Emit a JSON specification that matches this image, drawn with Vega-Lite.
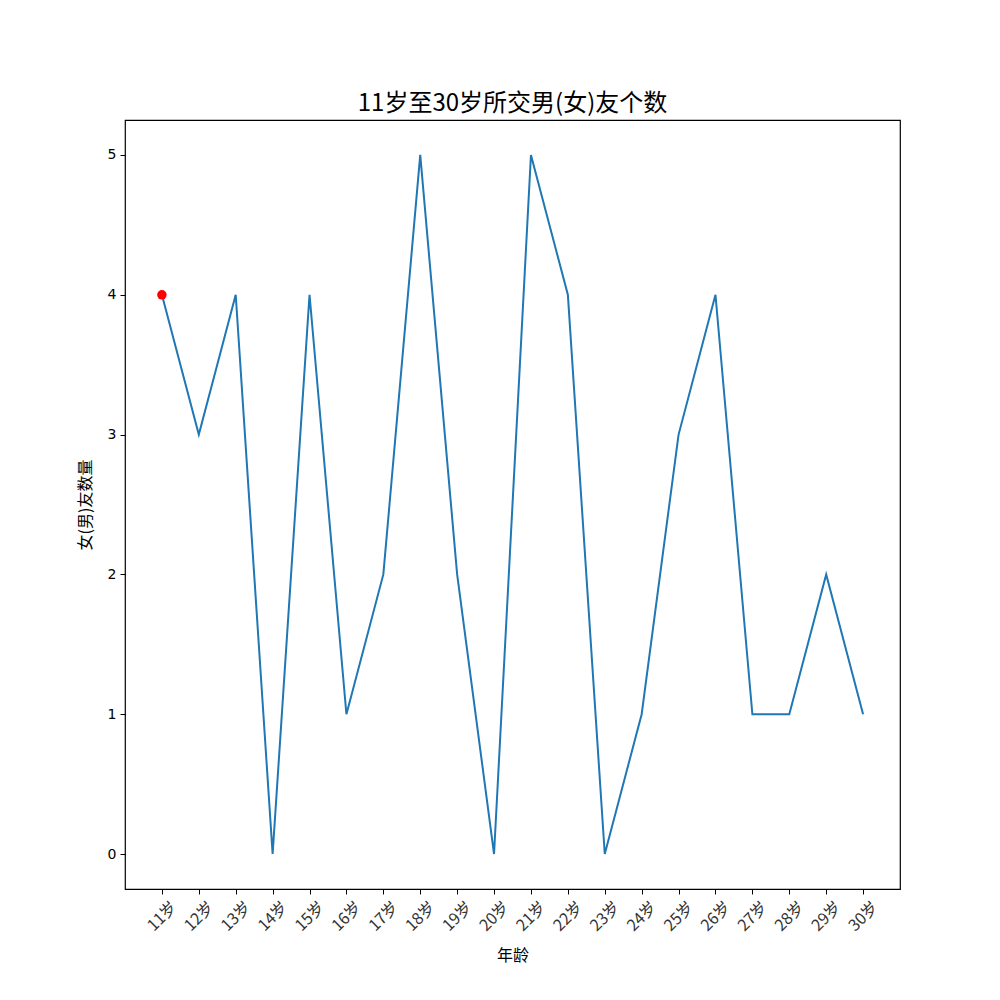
{
  "$schema": "https://vega.github.io/schema/vega-lite/v6.json",
  "width": 775,
  "height": 769,
  "autosize": {"type": "none"},
  "padding": {"left": 125, "top": 120, "right": 100, "bottom": 111},
  "background": "white",
  "title": {
    "text": "11岁至30岁所交男(女)友个数",
    "font": "Noto Sans CJK SC",
    "fontSize": 24,
    "fontWeight": "normal",
    "color": "black",
    "anchor": "middle",
    "offset": 4
  },
  "data": {
    "values": [
      {"age": "11岁", "count": 4},
      {"age": "12岁", "count": 3},
      {"age": "13岁", "count": 4},
      {"age": "14岁", "count": 0},
      {"age": "15岁", "count": 4},
      {"age": "16岁", "count": 1},
      {"age": "17岁", "count": 2},
      {"age": "18岁", "count": 5},
      {"age": "19岁", "count": 2},
      {"age": "20岁", "count": 0},
      {"age": "21岁", "count": 5},
      {"age": "22岁", "count": 4},
      {"age": "23岁", "count": 0},
      {"age": "24岁", "count": 1},
      {"age": "25岁", "count": 3},
      {"age": "26岁", "count": 4},
      {"age": "27岁", "count": 1},
      {"age": "28岁", "count": 1},
      {"age": "29岁", "count": 2},
      {"age": "30岁", "count": 1}
    ]
  },
  "encoding": {
    "x": {
      "field": "age",
      "type": "ordinal",
      "sort": null,
      "scale": {"type": "point", "padding": 1.0},
      "axis": {
        "title": "年龄",
        "titleFont": "Noto Sans CJK SC",
        "titleFontSize": 16,
        "titleFontWeight": "normal",
        "titleColor": "black",
        "titlePadding": 14,
        "labelFont": "Noto Sans CJK SC",
        "labelFontSize": 16,
        "labelColor": "#333",
        "labelAngle": -45,
        "labelAlign": "center",
        "labelBaseline": "middle",
        "labelPadding": 22,
        "tickSize": 5,
        "tickColor": "black",
        "domain": false,
        "grid": false
      }
    },
    "y": {
      "field": "count",
      "type": "quantitative",
      "scale": {"domain": [-0.25, 5.25], "nice": false, "zero": false},
      "axis": {
        "title": "女(男)友数量",
        "titleFont": "Noto Sans CJK SC",
        "titleFontSize": 16,
        "titleFontWeight": "normal",
        "titleColor": "black",
        "titlePadding": 14,
        "values": [0, 1, 2, 3, 4, 5],
        "labelFont": "DejaVu Sans",
        "labelFontSize": 14,
        "labelColor": "black",
        "labelPadding": 4,
        "tickSize": 5,
        "tickColor": "black",
        "domain": false,
        "grid": false
      }
    }
  },
  "layer": [
    {
      "mark": {"type": "line", "color": "#1f77b4", "strokeWidth": 2}
    },
    {
      "transform": [{"filter": "datum.age == '11岁'"}],
      "mark": {"type": "point", "filled": true, "color": "red", "size": 90, "opacity": 1}
    }
  ],
  "config": {
    "view": {"stroke": "black", "strokeWidth": 1.2}
  }
}
